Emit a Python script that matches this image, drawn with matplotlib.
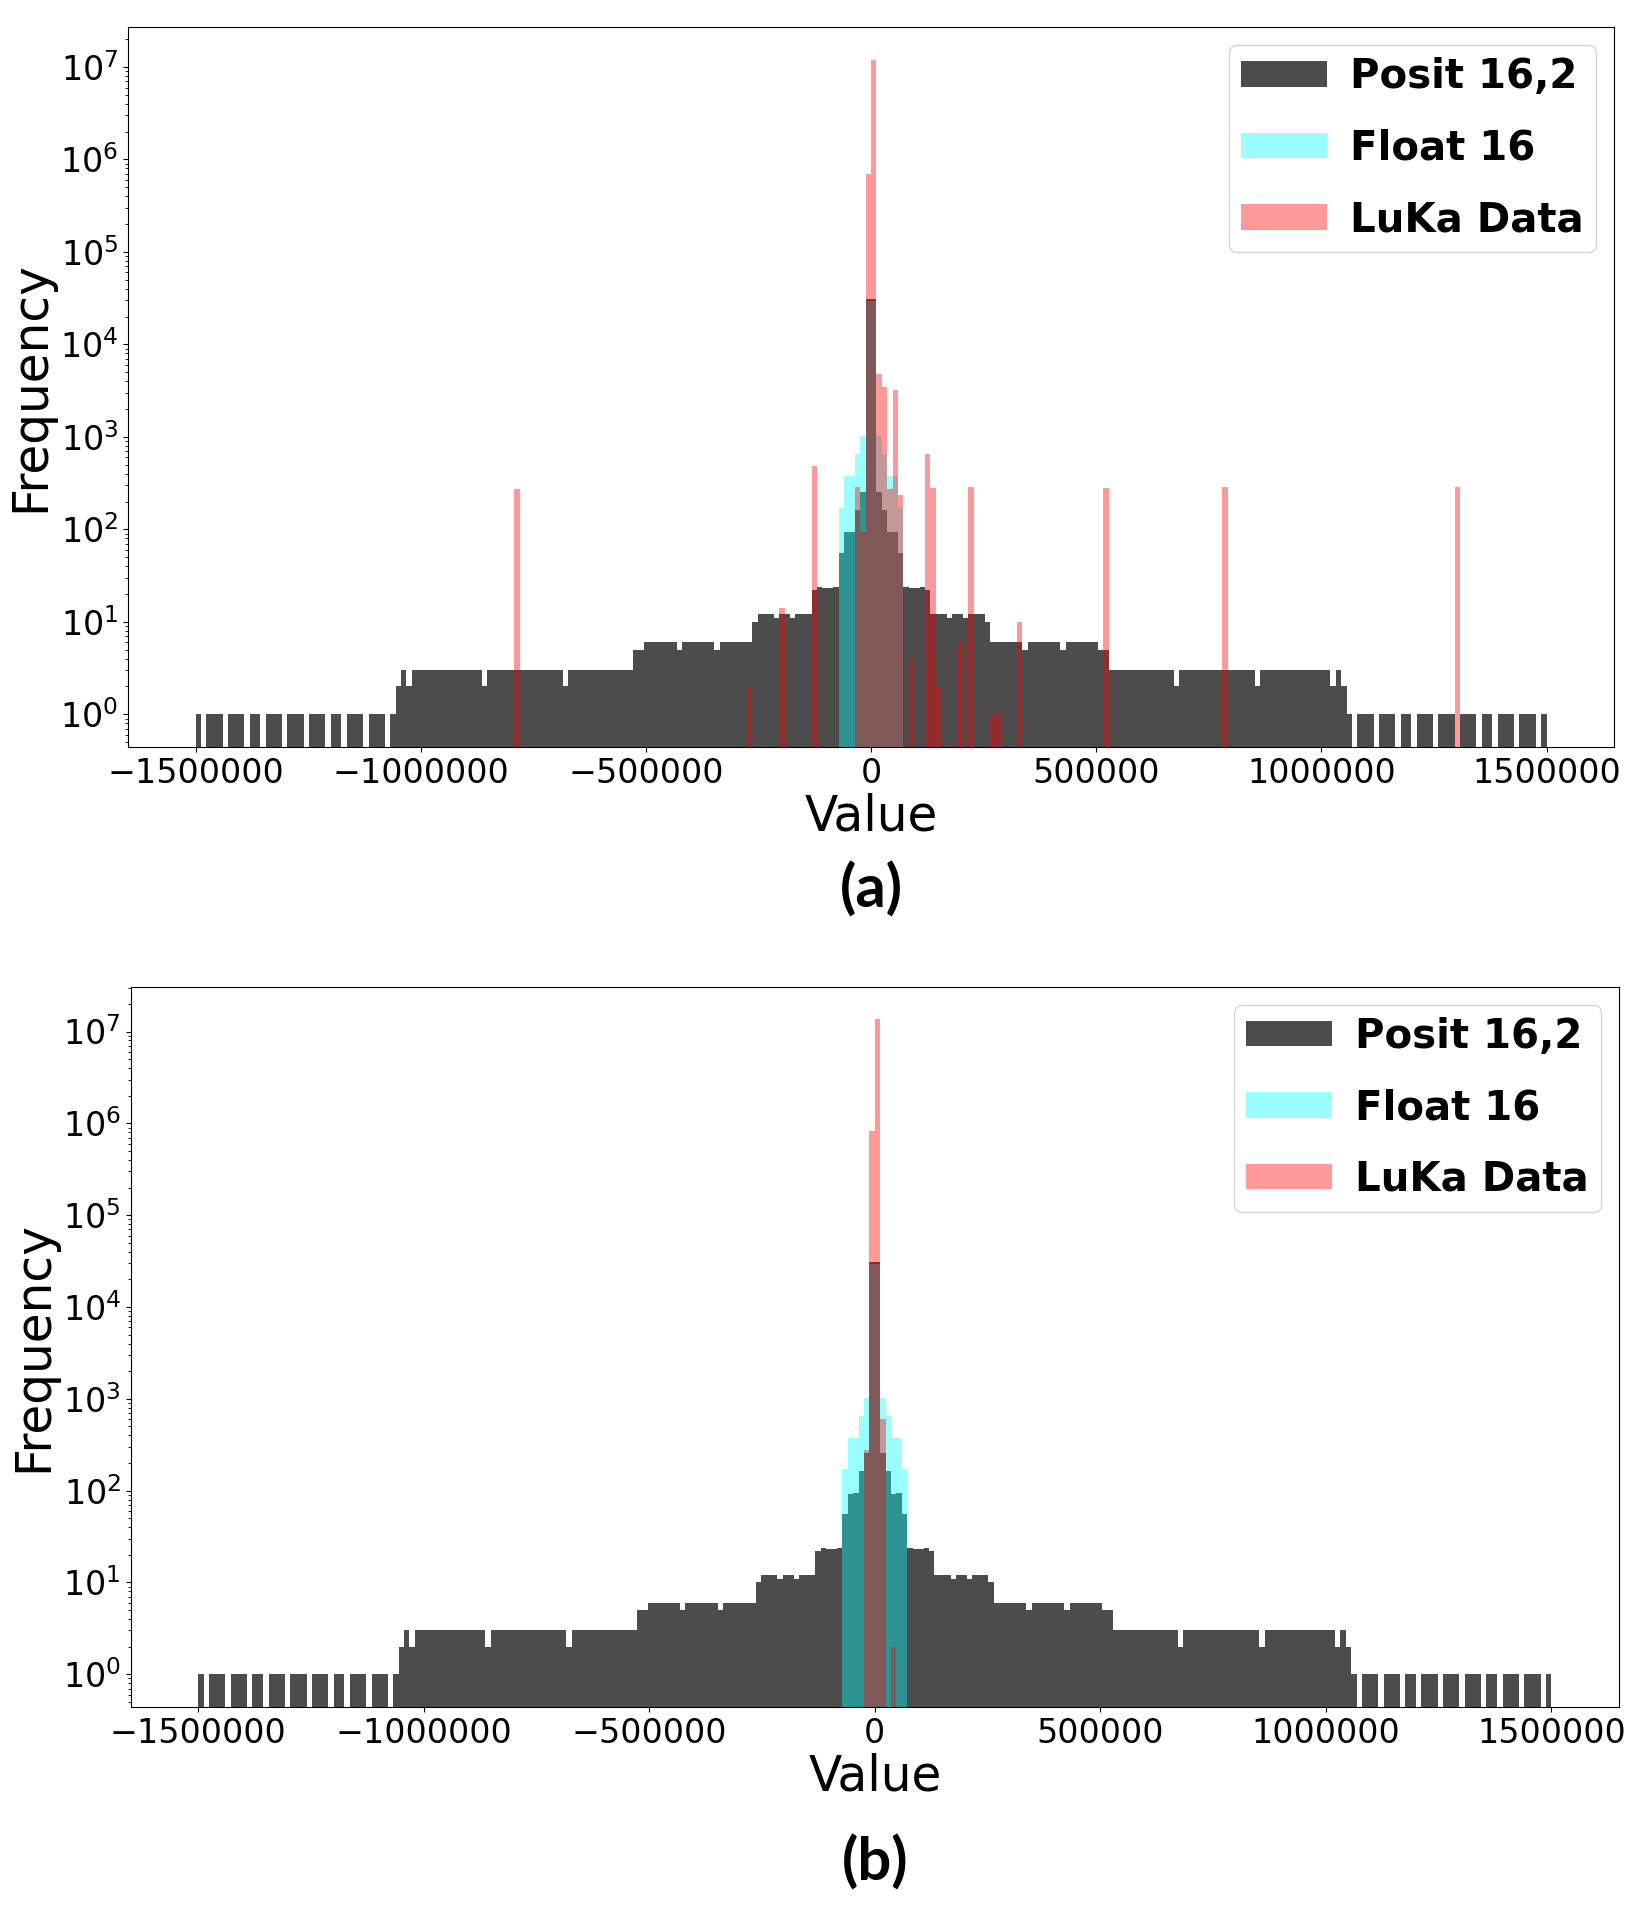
import numpy as np
import matplotlib
matplotlib.use("Agg")
import matplotlib.pyplot as plt

# ==========================================================
# HISTOGRAM DATA (counts per bin)
# ==========================================================

bin_width = 12000
bin_edges = np.arange(-1500000, 1500000 + bin_width, bin_width)
bin_centers = bin_edges[:-1] + bin_width / 2

# Posit 16,2 : one count per bin, 250 bins from -1.5e6 to 1.5e6
posit_counts = [
    1, 0, 1, 1, 1, 0, 1, 1, 1, 0,
    1, 1, 0, 1, 1, 1, 0, 1, 1, 1,
    0, 1, 1, 1, 0, 1, 1, 0, 1, 1,
    1, 0, 1, 1, 1, 0, 1, 2, 3, 2,
    3, 3, 3, 3, 3, 3, 3, 3, 3, 3,
    3, 3, 3, 2, 3, 3, 3, 3, 3, 3,
    3, 3, 3, 3, 3, 3, 3, 3, 2, 3,
    3, 3, 3, 3, 3, 3, 3, 3, 3, 3,
    3, 5, 5, 6, 6, 6, 6, 6, 6, 5,
    6, 6, 6, 6, 6, 6, 5, 6, 6, 6,
    6, 6, 6, 10, 12, 12, 12, 11, 12, 12,
    11, 12, 12, 12, 22, 24, 23, 23, 24, 56,
    93, 94, 162, 256, 31095,
    31095, 256, 163, 93, 94, 56, 24, 23, 23, 24,
    22, 12, 12, 12, 11, 12, 12, 11, 12, 12,
    12, 10, 6, 6, 6, 6, 6, 6, 5, 6,
    6, 6, 6, 6, 6, 5, 6, 6, 6, 6,
    6, 6, 5, 5, 3, 3, 3, 3, 3, 3,
    3, 3, 3, 3, 3, 3, 2, 3, 3, 3,
    3, 3, 3, 3, 3, 3, 3, 3, 3, 3,
    3, 2, 3, 3, 3, 3, 3, 3, 3, 3,
    3, 3, 3, 3, 3, 2, 3, 2, 1, 0,
    1, 1, 1, 0, 1, 1, 1, 0, 1, 1,
    0, 1, 1, 1, 0, 1, 1, 1, 0, 1,
    1, 1, 0, 1, 1, 0, 1, 1, 1, 0,
    1, 1, 1, 0, 1,
]

# Float 16 : only the bins around zero are filled
float16_values = [-66000, -54000, -42000, -30000, -18000, -6000,
                  6000, 18000, 30000, 42000, 54000, 66000]
float16_counts = [172, 375, 375, 649, 1024, 29148,
                  29149, 1024, 649, 375, 375, 173]

# LuKa data, panel (a)
luka_a_values = [-786000, -270000, -198000, -126000, -30000, -18000,
                 -6000, 6000, 18000, 30000, 42000, 54000,
                 66000, 90000, 126000, 138000, 150000, 198000,
                 222000, 270000, 282000, 330000, 522000, 786000,
                 1302000]
luka_a_counts = [270, 2, 14, 480, 290, 94,
                 700000, 12000000, 4800, 3500, 270, 3200,
                 234, 4, 650, 277, 2, 6,
                 287, 1, 1, 10, 277, 287,
                 285]

# LuKa data, panel (b)
luka_b_values = [-18000, -6000, 6000, 18000, 42000]
luka_b_counts = [280, 820000, 13600000, 610, 2]

# ==========================================================
# FIGURE
# ==========================================================

fig = plt.figure(figsize=(16.48, 19.12), dpi=100)

panels = [
    ([0.0777, 0.6093, 0.9017, 0.3766], luka_a_values, luka_a_counts, "(a)", 0.535),
    ([0.0793, 0.1072, 0.9031, 0.3768], luka_b_values, luka_b_counts, "(b)", 0.026),
]

for rect, luka_values, luka_counts, tag, tag_y in panels:

    ax = fig.add_axes(rect)

    ax.hist(bin_centers, bins=bin_edges, weights=posit_counts,
            color="black", alpha=0.7, log=True, label="Posit 16,2")

    ax.hist(float16_values, bins=bin_edges, weights=float16_counts,
            color="cyan", alpha=0.4, log=True, label="Float 16")

    ax.hist(luka_values, bins=bin_edges, weights=luka_counts,
            color="red", alpha=0.4, log=True, label="LuKa Data")

    ax.ticklabel_format(axis="x", style="plain", useOffset=False)
    ax.tick_params(axis="both", labelsize=24)

    ax.set_xlabel("Value", fontsize=35, labelpad=2)
    ax.set_ylabel("Frequency", fontsize=35, labelpad=4)

    ax.legend(loc="upper right",
              prop={"weight": "bold", "size": 29},
              handlelength=2.12, handleheight=0.6,
              labelspacing=0.78, borderpad=0.3,
              handletextpad=0.58, borderaxespad=0.45)

    fig.text(rect[0] + rect[2] / 2, tag_y, tag,
             ha="center", va="center",
             fontsize=43, fontweight="bold", family="Lato")

plt.savefig("out.png", dpi=100)
